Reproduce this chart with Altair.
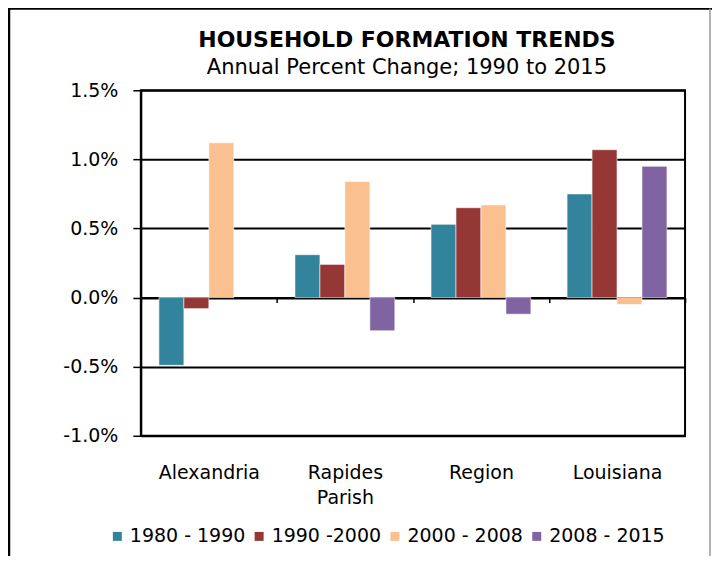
import altair as alt
import pandas as pd

categories = ["Alexandria", "Rapides Parish", "Region", "Louisiana"]
periods = ["1980 - 1990", "1990 -2000", "2000 - 2008", "2008 - 2015"]
v_1980_1990 = [-0.49, 0.31, 0.53, 0.75]
v_1990_2000 = [-0.08, 0.24, 0.65, 1.07]
v_2000_2008 = [1.12, 0.84, 0.67, -0.05]
v_2008_2015 = [None, -0.24, -0.12, 0.95]
colors = ["#31849B", "#953735", "#FAC090", "#8064A2"]
y_ticks = [-1.0, -0.5, 0.0, 0.5, 1.0, 1.5]

series = [v_1980_1990, v_1990_2000, v_2000_2008, v_2008_2015]
rows = []
for p, vals in zip(periods, series):
    for c, v in zip(categories, vals):
        if v is not None:
            rows.append({"category": c, "period": p, "value": v / 100.0})
df = pd.DataFrame(rows)

W, H = 545, 346
FONT = "DejaVu Sans"
ymin, ymax = y_ticks[0] / 100, y_ticks[-1] / 100
zero_px = H * (ymax - 0) / (ymax - ymin)

bars = alt.Chart(df).mark_bar(stroke="white", strokeWidth=0.8, strokeOpacity=0.7).encode(
    x=alt.X(
        "category:N",
        sort=categories,
        scale=alt.Scale(paddingInner=0, paddingOuter=0),
        axis=alt.Axis(
            title=None,
            orient="bottom",
            offset=-(H - zero_px),
            domainColor="black",
            domainWidth=2,
            tickColor="black",
            tickWidth=1.5,
            tickSize=5,
            tickBand="extent",
            labelAngle=0,
            labelFont=FONT,
            labelFontSize=19,
            labelColor="black",
            labelPadding=161,
            labelLineHeight=25,
            labelExpr="split(datum.label, ' ')",
            grid=False,
        ),
    ),
    xOffset=alt.XOffset(
        "period:N",
        sort=periods,
        scale=alt.Scale(paddingInner=0, paddingOuter=0.725),
    ),
    y=alt.Y(
        "value:Q",
        scale=alt.Scale(domain=[ymin, ymax], nice=False, zero=False),
        axis=alt.Axis(
            title=None,
            values=[t / 100 for t in y_ticks],
            labelExpr="replace(format(datum.value, '.1%'), '\u2212', '-')",
            domainColor="black",
            domainWidth=2,
            tickColor="black",
            tickWidth=1.5,
            tickSize=8,
            labelFont=FONT,
            labelFontSize=19,
            labelColor="black",
            labelPadding=15,
            gridColor="black",
            gridWidth=2,
            gridOpacity=1,
        ),
    ),
    color=alt.Color(
        "period:N",
        sort=periods,
        scale=alt.Scale(domain=periods, range=colors),
        legend=alt.Legend(
            title=None,
            orient="none",
            legendX=-33,
            legendY=437,
            direction="horizontal",
            columns=4,
            symbolType="square",
            symbolSize=81,
            symbolStrokeWidth=0,
            symbolOpacity=1,
            labelFont=FONT,
            labelFontSize=19,
            labelColor="black",
            labelOffset=3,
            columnPadding=4,
        ),
    ),
)

frame_df = pd.DataFrame({"k": [0]})
left_line = alt.Chart(frame_df).mark_rule(color="black", strokeWidth=2.5).encode(
    x=alt.value(-132), y=alt.value(-82), y2=alt.value(500)
)
top_line = alt.Chart(frame_df).mark_rule(color="black", strokeWidth=2.5).encode(
    x=alt.value(-133), x2=alt.value(572), y=alt.value(-82)
)
right_line = alt.Chart(frame_df).mark_rule(color="#999999", strokeWidth=1.5).encode(
    x=alt.value(570), y=alt.value(-82), y2=alt.value(500)
)

chart = (
    alt.layer(bars, left_line, top_line, right_line)
    .properties(
        width=W,
        height=H,
        background="white",
        title=alt.Title(
            "HOUSEHOLD FORMATION TRENDS",
            subtitle="Annual Percent Change; 1990 to 2015",
            anchor="middle",
            font=FONT,
            fontSize=22,
            fontWeight="bold",
            color="black",
            subtitleFont=FONT,
            subtitleFontSize=21,
            subtitleColor="black",
            subtitlePadding=5,
            offset=-72,
            dx=-6,
        ),
        autosize=alt.AutoSizeParams(type="none"),
        padding={"left": 133, "top": 82, "right": 27, "bottom": 120},
    )
    .configure_view(stroke="black", strokeWidth=2)
)

chart.save("out.html", embed_options={"renderer": "svg", "actions": False})
